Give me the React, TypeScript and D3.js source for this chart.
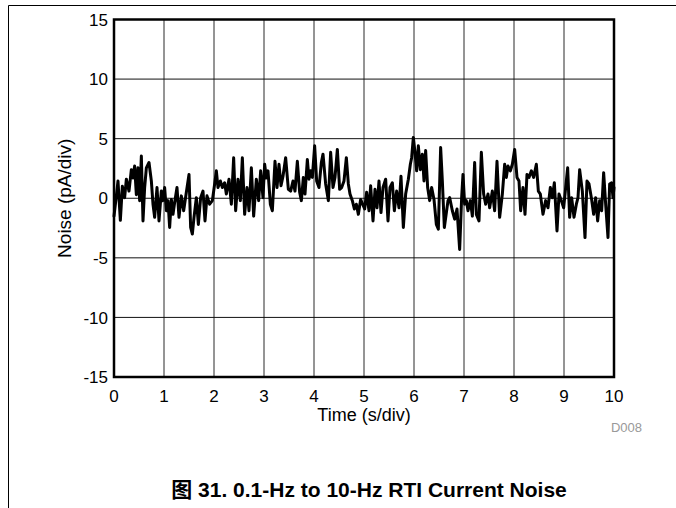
import React from "react";
import * as d3 from "d3";

const xTicks = [0, 1, 2, 3, 4, 5, 6, 7, 8, 9, 10];
const yTicks = [-15, -10, -5, 0, 5, 10, 15];

const times = [
  0.0, 0.047, 0.08, 0.127, 0.167, 0.213, 0.247, 0.3, 0.347, 0.38, 0.413, 0.447, 0.48, 0.513, 0.547, 0.58,
  0.613, 0.647, 0.7, 0.747, 0.78, 0.813, 0.86, 0.9, 0.947, 0.98, 1.013, 1.047, 1.08, 1.113, 1.147, 1.18,
  1.213, 1.26, 1.3, 1.347, 1.393, 1.447, 1.5, 1.533, 1.567, 1.6, 1.647, 1.687, 1.733, 1.78, 1.82, 1.86,
  1.913, 1.967, 2.013, 2.047, 2.08, 2.127, 2.167, 2.213, 2.247, 2.3, 2.347, 2.393, 2.433, 2.48, 2.527, 2.567,
  2.613, 2.66, 2.7, 2.747, 2.793, 2.847, 2.893, 2.933, 2.98, 3.013, 3.047, 3.08, 3.127, 3.167, 3.22, 3.26,
  3.3, 3.34, 3.38, 3.433, 3.487, 3.533, 3.58, 3.62, 3.667, 3.713, 3.747, 3.787, 3.82, 3.867, 3.9, 3.933,
  3.967, 4.013, 4.053, 4.1, 4.147, 4.18, 4.233, 4.287, 4.333, 4.38, 4.42, 4.467, 4.513, 4.553, 4.6, 4.647,
  4.687, 4.72, 4.767, 4.807, 4.847, 4.887, 4.933, 4.973, 5.013, 5.053, 5.1, 5.133, 5.18, 5.22, 5.26, 5.3,
  5.34, 5.38, 5.433, 5.48, 5.52, 5.567, 5.607, 5.653, 5.7, 5.74, 5.787, 5.833, 5.887, 5.927, 5.953, 5.987,
  6.02, 6.053, 6.087, 6.127, 6.167, 6.2, 6.233, 6.273, 6.313, 6.353, 6.4, 6.447, 6.487, 6.533, 6.567, 6.607,
  6.68, 6.713, 6.767, 6.813, 6.86, 6.913, 6.953, 6.98, 7.013, 7.047, 7.08, 7.127, 7.167, 7.213, 7.247, 7.3,
  7.347, 7.393, 7.433, 7.48, 7.513, 7.567, 7.613, 7.66, 7.713, 7.767, 7.813, 7.847, 7.88, 7.927, 7.967, 8.013,
  8.06, 8.1, 8.133, 8.18, 8.22, 8.26, 8.3, 8.347, 8.393, 8.447, 8.487, 8.527, 8.58, 8.633, 8.68, 8.727,
  8.767, 8.807, 8.86, 8.9, 8.947, 8.993, 9.033, 9.073, 9.113, 9.153, 9.2, 9.247, 9.28, 9.313, 9.367, 9.42,
  9.46, 9.5, 9.547, 9.593, 9.633, 9.673, 9.713, 9.753, 9.793, 9.833, 9.88, 9.913, 9.953, 9.98, 10.0,
];

const noise = [
  -1.5, 0.2, 1.45, -1.85, 1.0, 0.05, 1.6, 0.6, 2.4, 1.7, 2.7, 0.3, 2.55, -0.2, 3.55, -1.9,
  0.9, 2.55, 3.0, 1.45, -0.5, -1.6, 0.9, -1.9, 0.6, -0.2, 0.9, -1.05, -0.2, -2.45, -0.1, -1.35,
  -0.35, 0.9, -1.6, 0.2, -1.05, 0.5, 2.0, -2.45, -3.0, -1.6, 0.05, -2.2, 0.05, 0.6, -1.9, 0.2,
  -0.5, -0.2, 1.2, 2.3, 0.9, 1.45, 0.9, 1.3, 0.35, 1.6, -0.5, 3.4, -1.05, 1.6, -0.2, 3.4,
  -1.35, 0.9, -1.05, 2.55, -1.5, 1.6, -0.2, 2.3, 0.05, 2.85, 1.7, 2.3, -0.5, -1.05, 3.1, 0.9,
  2.85, 1.05, 1.85, 3.4, 0.75, 0.6, 1.45, 0.6, 3.1, 0.5, -0.2, 1.75, 0.35, 3.25, 1.6, 2.3,
  1.75, 4.4, 1.45, 0.9, 3.0, 3.7, 1.2, -0.2, 3.85, 0.9, 1.75, 4.1, 0.75, 0.9, 1.45, 3.4,
  1.2, 0.35, -0.2, -0.9, -0.5, -1.35, -0.1, -0.5, -0.9, 0.5, -1.05, 1.05, -1.9, 0.75, -0.8, 1.45,
  -1.2, 0.9, 1.6, -1.9, 0.9, 1.3, -1.05, 0.6, -0.8, 1.85, -2.45, 0.35, 1.6, 2.85, 3.4, 5.1,
  3.85, 2.3, 4.4, 2.4, 3.7, 1.45, 4.0, 0.9, -0.2, 0.9, -0.1, -2.2, -2.6, 4.25, 1.45, -2.45,
  -0.2, 0.05, -1.05, -1.75, -0.9, -4.3, 0.05, 2.0, -0.5, -0.2, -1.05, -0.2, -1.5, 3.0, -1.35, -1.9,
  3.85, 0.35, -0.5, 0.35, -0.8, 0.6, -1.05, 3.1, -1.6, 0.35, 2.85, 1.75, 2.7, 2.3, 2.85, 4.1,
  1.75, 1.45, -1.05, 0.9, -1.35, 2.0, 1.75, 2.3, 1.75, 2.85, 0.6, 0.35, -1.35, -0.2, -0.8, 0.9,
  0.05, 1.3, -2.75, 0.35, -0.2, -0.8, 0.9, 2.55, -1.6, 0.05, -1.6, -0.5, 0.05, 2.4, 0.6, -3.3,
  1.45, 1.2, 0.05, -1.35, 0.05, -1.9, -0.2, -1.05, 2.15, -0.5, -3.3, 1.2, 1.3, 0.05, 0.9,
];

const W = 676;
const H = 508;
const plot = { left: 114, right: 614, top: 19.5, bottom: 377 };
const FONT = "Arial, 'Liberation Sans', sans-serif";

export default function App() {
  const x = d3.scaleLinear().domain([0, 10]).range([plot.left, plot.right]);
  const y = d3.scaleLinear().domain([-15, 15]).range([plot.bottom, plot.top]);
  const pts: [number, number][] = times.map((t, i) => [t, noise[i]]);
  const line = d3
    .line<[number, number]>()
    .x((d) => x(d[0]))
    .y((d) => y(d[1]));

  return (
    <svg
      width={W}
      height={H}
      style={{ position: "absolute", left: 0, top: 0, display: "block", background: "#fff" }}
    >
      <rect x={0} y={0} width={W} height={H} fill="#fff" />
      {/* page frame */}
      <line x1={8.5} y1={5.5} x2={W} y2={5.5} stroke="#000" strokeWidth={1} />
      <line x1={8.5} y1={5.5} x2={8.5} y2={H} stroke="#000" strokeWidth={1} />

      {/* grid */}
      {xTicks.map((t) => (
        <line key={"gx" + t} x1={x(t)} x2={x(t)} y1={plot.top} y2={plot.bottom} stroke="#2a2a2a" strokeWidth={1} />
      ))}
      {yTicks.map((v) => (
        <line key={"gy" + v} x1={plot.left} x2={plot.right} y1={y(v)} y2={y(v)} stroke="#111" strokeWidth={1} />
      ))}

      {/* trace */}
      <path
        d={line(pts) || ""}
        fill="none"
        stroke="#000"
        strokeWidth={3}
        strokeLinejoin="round"
        strokeLinecap="round"
      />

      {/* frame */}
      <rect
        x={plot.left}
        y={plot.top}
        width={plot.right - plot.left}
        height={plot.bottom - plot.top}
        fill="none"
        stroke="#000"
        strokeWidth={2.5}
      />

      {/* y tick labels */}
      {yTicks.map((v) => (
        <text key={"yl" + v} x={108} y={y(v)} dy="0.36em" textAnchor="end" fontFamily={FONT} fontSize={17} fill="#000">
          {v}
        </text>
      ))}
      {/* x tick labels */}
      {xTicks.map((t) => (
        <text key={"xl" + t} x={x(t)} y={402} textAnchor="middle" fontFamily={FONT} fontSize={17} fill="#000">
          {t}
        </text>
      ))}

      <text x={x(5)} y={421} textAnchor="middle" fontFamily={FONT} fontSize={18} fill="#000">
        Time (s/div)
      </text>
      <text
        transform={`translate(71, ${(plot.top + plot.bottom) / 2}) rotate(-90)`}
        textAnchor="middle"
        fontFamily={FONT}
        fontSize={19}
        fill="#000"
      >
        Noise (pA/div)
      </text>
      <text x={642} y={432} textAnchor="end" fontFamily={FONT} fontSize={13} fill="#999">
        D008
      </text>
      <text
        x={369}
        y={497}
        textAnchor="middle"
        fontFamily={"Arial, 'Liberation Sans', 'Noto Sans CJK SC', sans-serif"}
        fontSize={21}
        fontWeight="bold"
        fill="#000"
      >
        图 31. 0.1-Hz to 10-Hz RTI Current Noise
      </text>
    </svg>
  );
}
